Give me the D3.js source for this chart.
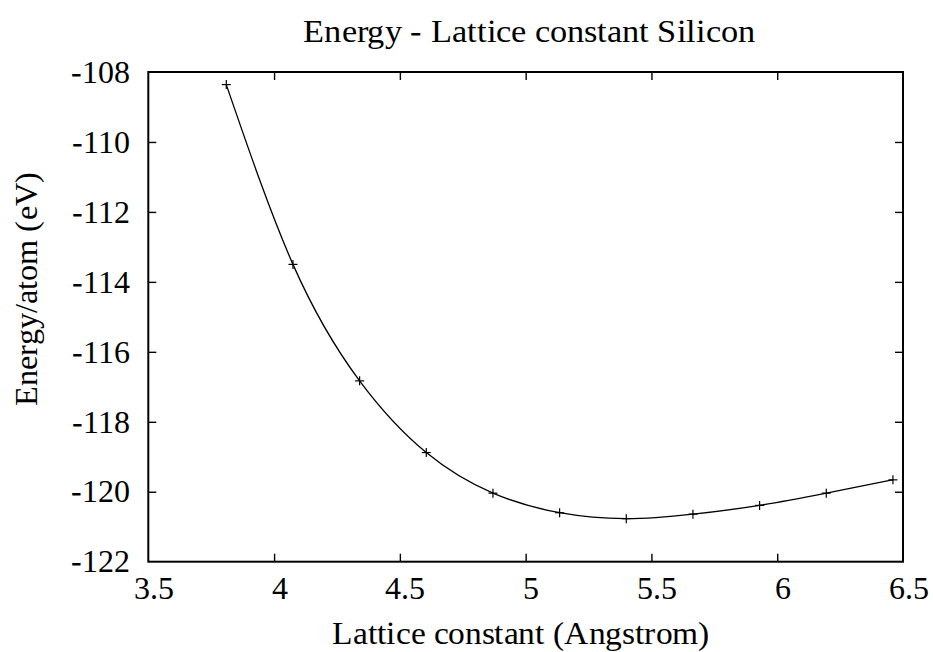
<!DOCTYPE html>
<html>
<head>
<meta charset="utf-8">
<script src="https://cdn.jsdelivr.net/npm/d3@7"></script>
<style>
  @font-face { font-family: "ChartSerif"; src: local("Liberation Serif"), local("LiberationSerif"), local("Tinos"); }
  html, body { margin: 0; padding: 0; background: #fff; }
  svg { display: block; }
  svg text { font-family: "ChartSerif", "Liberation Serif", "Times New Roman", Georgia, serif !important; }
</style>
</head>
<body>
<svg id="chart" width="933" height="652"></svg>
<script>
// Lattice constant (Angstrom) and total energy per atom (eV) for silicon
const latticeConstants = [3.81, 4.075, 4.34, 4.605, 4.87, 5.135, 5.40, 5.665, 5.93, 6.195, 6.46];
const energies = [-108.36, -113.50, -116.83, -118.88, -120.04, -120.60, -120.77, -120.64, -120.39, -120.04, -119.66];

const xTicks = [3.5, 4, 4.5, 5, 5.5, 6, 6.5];
const yTicks = [-122, -120, -118, -116, -114, -112, -110, -108];

const titleText = "Energy - Lattice constant Silicon";
const xLabelText = "Lattice constant (Angstrom)";
const yLabelText = "Energy/atom (eV)";

const fontSize = 32;
const tickLen = 8;

const svg = d3.select("#chart");
svg.append("rect").attr("width", 933).attr("height", 652).attr("fill", "#fff");

const plot = { left: 148.3, right: 903, top: 72, bottom: 561.7 };

const x = d3.scaleLinear().domain([3.5, 6.5]).range([plot.left, plot.right]);
const y = d3.scaleLinear().domain([-122, -108]).range([plot.bottom, plot.top]);

// tick marks point inward on all four sides; labels only bottom and left
function axisGroup(axis, tx, ty) {
  const g = svg.append("g").attr("transform", `translate(${tx},${ty})`).call(axis);
  g.attr("font-family", null).attr("font-size", null);
  g.select(".domain").remove();
  g.selectAll(".tick line").attr("stroke", "#000").attr("stroke-width", 1.4);
  g.selectAll(".tick text")
    .attr("font-size", fontSize)
    .attr("fill", "#000");
  return g;
}

const gx = axisGroup(d3.axisBottom(x).tickValues(xTicks).tickSize(-tickLen).tickPadding(14.5), 0, plot.bottom);
const gxTop = axisGroup(d3.axisTop(x).tickValues(xTicks).tickSize(-tickLen).tickFormat(""), 0, plot.top);
const gy = axisGroup(d3.axisLeft(y).tickValues(yTicks).tickSize(-tickLen).tickPadding(18), plot.left, 0);
const gyRight = axisGroup(d3.axisRight(y).tickValues(yTicks).tickSize(-tickLen).tickFormat(""), plot.right, 0);

gx.selectAll(".tick text").attr("x", 5).text(d => String(d));
gy.selectAll(".tick text").text(d => String(d));
[gx, gxTop].forEach(g => g.selectAll(".tick").filter(d => d === 3.5 || d === 6.5).select("line").remove());
[gy, gyRight].forEach(g => g.selectAll(".tick").filter(d => d === -122 || d === -108).select("line").remove());

// plot frame
svg.append("rect")
  .attr("x", plot.left).attr("y", plot.top)
  .attr("width", plot.right - plot.left).attr("height", plot.bottom - plot.top)
  .attr("fill", "none").attr("stroke", "#000").attr("stroke-width", 2);

// smoothed curve through the computed energies
const pts = latticeConstants.map((a, i) => [a, energies[i]]);
const line = d3.line().x(d => x(d[0])).y(d => y(d[1])).curve(d3.curveNatural);
svg.append("path")
  .attr("d", line(pts))
  .attr("fill", "none").attr("stroke", "#000").attr("stroke-width", 1.3);

// "+" markers at each data point
const arm = 4.5;
const marks = svg.append("g").attr("stroke", "#000").attr("stroke-width", 1.2);
pts.forEach(d => {
  const cx = x(d[0]), cy = y(d[1]);
  marks.append("line").attr("x1", cx - arm).attr("x2", cx + arm).attr("y1", cy).attr("y2", cy);
  marks.append("line").attr("x1", cx).attr("x2", cx).attr("y1", cy - arm).attr("y2", cy + arm);
});

// title and axis labels
function label(t) {
  return svg.append("text")
    .attr("font-size", fontSize)
    .attr("fill", "#000")
    .attr("text-anchor", "middle")
    .attr("lengthAdjust", "spacingAndGlyphs")
    .text(t);
}

label(titleText).attr("x", 529).attr("y", 42).attr("textLength", 452);
label(xLabelText).attr("x", 521).attr("y", 644).attr("textLength", 378);
label(yLabelText).attr("transform", "translate(37,289) rotate(-90)").attr("textLength", 234);
</script>
</body>
</html>
